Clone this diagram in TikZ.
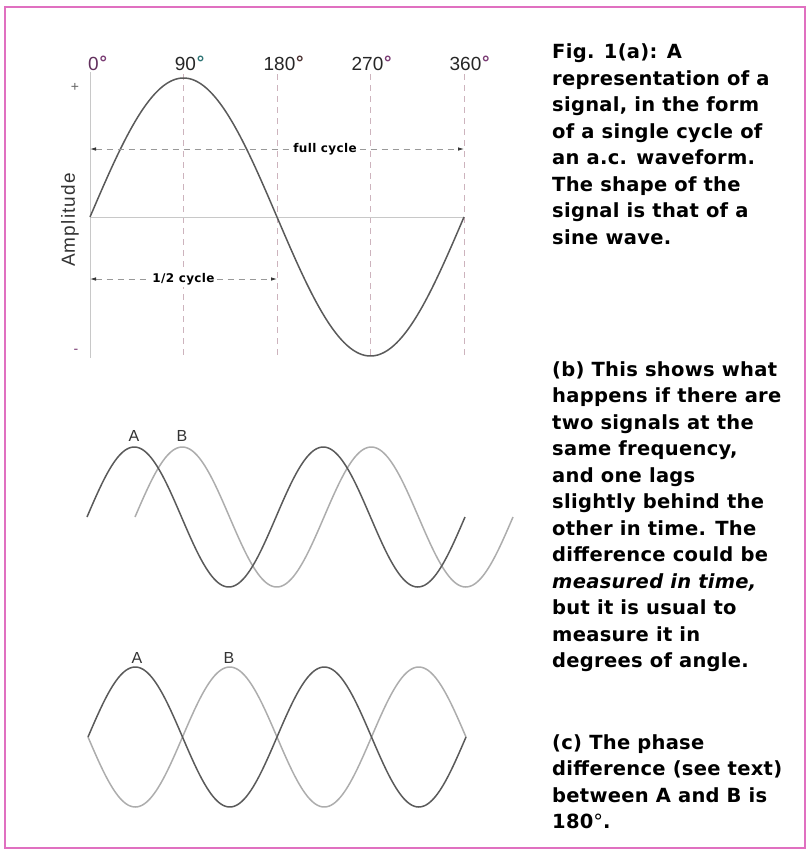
\documentclass[tikz,border=0pt]{standalone}
\usepackage{fontspec}
\setmainfont{Liberation Sans}
\newfontfamily\capfont{DejaVu Sans}[LetterSpace=1.5]
\newfontfamily\dimfont{DejaVu Sans}[LetterSpace=3]
\newfontfamily\degfont{DejaVu Sans}
\newfontfamily\ampfont{Liberation Sans}[LetterSpace=6]
\usetikzlibrary{arrows.meta}
\definecolor{frame}{HTML}{E070C0}
\definecolor{gridc}{HTML}{CDB3BD}
\definecolor{axisc}{HTML}{C8C8C8}
\definecolor{waveA}{HTML}{5A5A5A}
\definecolor{waveB}{HTML}{ADADAD}
\definecolor{degP}{HTML}{7A3C74}
\definecolor{degT}{HTML}{2E7474}
\definecolor{degD}{HTML}{4A3030}
\definecolor{lblc}{HTML}{333333}
\newcommand{\dg}[1]{\textcolor{#1}{\degfont\bfseries\fontsize{18}{18}\selectfont\raisebox{0.5pt}{°}}}
\begin{document}
\begin{tikzpicture}[x=1pt,y=-1pt,
  gridline/.style={gridc, line width=0.9pt, dash pattern=on 6pt off 5pt},
  axisline/.style={axisc, line width=0.9pt},
  wa/.style={waveA, line width=1.5pt},
  wb/.style={waveB, line width=1.5pt},
  dimline/.style={gray!80, line width=0.8pt, dash pattern=on 6pt off 5pt,
     {Latex[length=6pt,width=3.5pt,black!80]}-{Latex[length=6pt,width=3.5pt,black!80]}},
  dimlbl/.style={fill=white, inner sep=2pt, font=\dimfont\bfseries\fontsize{12}{14}\selectfont},
  deglbl/.style={anchor=base, inner sep=0pt, text=black!85, font=\fontsize{19}{22}\selectfont},
  wlbl/.style={anchor=base, inner sep=0pt, text=lblc, font=\fontsize{16}{19}\selectfont},
  captxt/.style={anchor=north west, inner sep=0pt, align=left, text=black,
     font=\capfont\bfseries\fontsize{19.5}{26.5}\selectfont}]
\useasboundingbox (0,0) rectangle (808,852);
\draw[frame, line width=1.5pt] (5,7) rectangle (805,848);

% ---- panel (a) ----
\coordinate (g0t) at (90,72);   \coordinate (g0b) at (90,358);
\coordinate (g1t) at (183,74);  \coordinate (g1b) at (183,358);
\coordinate (g2t) at (277,74);  \coordinate (g2b) at (277,358);
\coordinate (g3t) at (370,74);  \coordinate (g3b) at (370,358);
\coordinate (g4t) at (464,74);  \coordinate (g4b) at (464,358);
\draw[gridline] (g1t) -- (g1b);
\draw[gridline] (g2t) -- (g2b);
\draw[gridline] (g3t) -- (g3b);
\draw[gridline] (g4t) -- (g4b);
\draw[axisline] (g0t) -- (g0b);
\coordinate (z0) at (90,217); \coordinate (z1) at (464,217);
\draw[axisline] (z0) -- (z1);
\draw[wa] plot[domain=90:464,samples=200] (\x,{217-139*sin((\x-90)/374*360)});

\node[deglbl] (d0) at (98,70) {\textcolor{degP!80!black}{0}\dg{degP}};
\node[deglbl] (d90) at (190,70) {90\dg{degT}};
\node[deglbl] (d180) at (284,70) {180\dg{degD}};
\node[deglbl] (d270) at (372,70) {270\dg{degP}};
\node[deglbl] (d360) at (470,70) {360\dg{degP}};

\node[inner sep=0pt, text=black!60, font=\fontsize{14}{16}\selectfont] (plus) at (75,87) {+};
\node[inner sep=0pt, text=degP, font=\fontsize{14}{16}\selectfont] (minus) at (76,351) {-};
\node[inner sep=0pt, rotate=90, text=lblc, font=\ampfont\fontsize{19}{22}\selectfont] (amp) at (70,220) {Amplitude};

\coordinate (fcL) at (90,149); \coordinate (fcR) at (464,149);
\draw[dimline] (fcL) -- (fcR);
\node[dimlbl] (fc) at (325,149) {full cycle};
\coordinate (hcL) at (90,279); \coordinate (hcR) at (277,279);
\draw[dimline] (hcL) -- (hcR);
\node[dimlbl] (hc) at (183.5,279) {1/2 cycle};

% ---- panel (b) ----
\draw[wb] plot[domain=135:513,samples=200] (\x,{517-70*sin((\x-135)/189*360)});
\draw[wa] plot[domain=87:465,samples=200] (\x,{517-70*sin((\x-87)/189*360)});
\node[wlbl] (bA) at (134,441) {A};
\node[wlbl] (bB) at (182,441) {B};

% ---- panel (c) ----
\draw[wb] plot[domain=88:466,samples=200] (\x,{737+70*sin((\x-88)/189*360)});
\draw[wa] plot[domain=88:466,samples=200] (\x,{737-70*sin((\x-88)/189*360)});
\node[wlbl] (cA) at (137,663) {A};
\node[wlbl] (cB) at (229,663) {B};

% ---- captions ----
\node[captxt] (capa) at (552,43.5) {Fig. 1(a): A\\representation of a\\signal, in the form\\of a single cycle of\\an a.c. waveform.\\The shape of the\\signal is that of a\\sine wave.};
\node[captxt] (capb) at (552,361.2) {(b) This shows what\\happens if there are\\two signals at the\\same frequency,\\and one lags\\slightly behind the\\other in time. The\\difference could be\\{\itshape measured in time,}\\but it is usual to\\measure it in\\degrees of angle.};
\node[captxt] (capc) at (552,734.2) {(c) The phase\\difference (see text)\\between A and B is\\180{\mdseries°}.};
\end{tikzpicture}
\end{document}
